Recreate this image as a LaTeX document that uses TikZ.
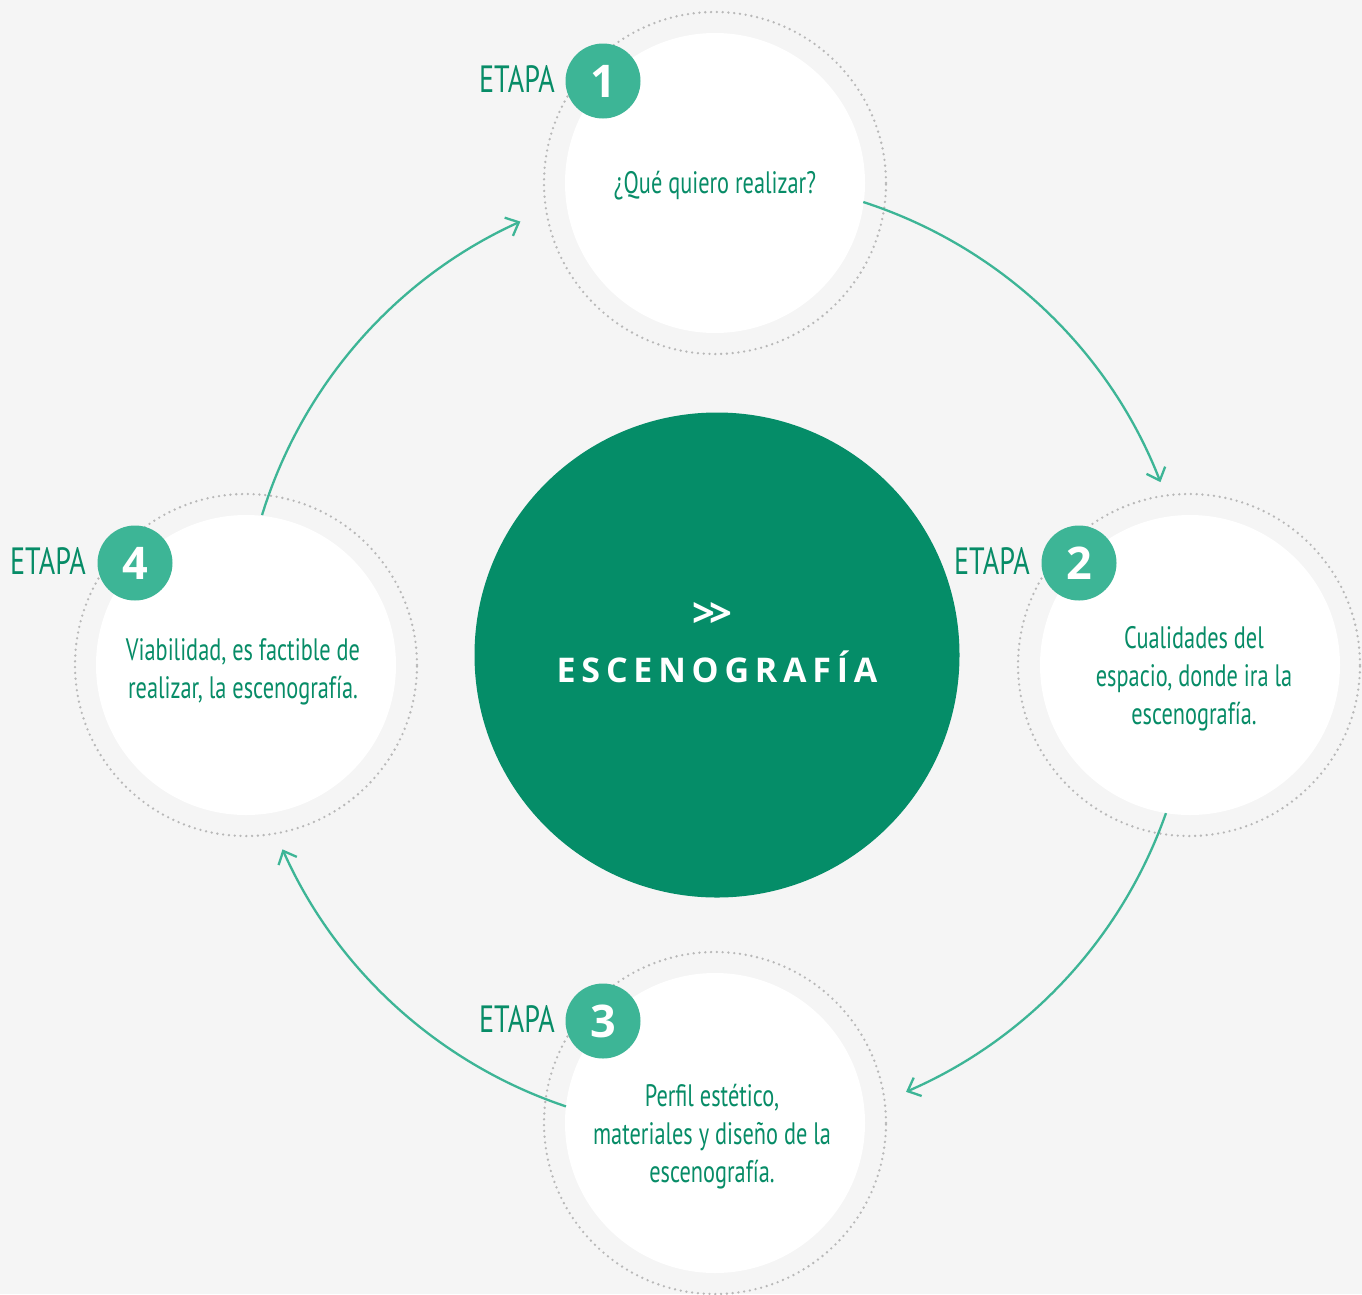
\documentclass[tikz,border=0pt]{standalone}
\usepackage{fontspec}
\usetikzlibrary{arrows.meta,calc}
\newfontfamily\condfont[FakeStretch=0.72]{PT Sans}
\newfontfamily\etapafont[FakeStretch=0.74]{PT Sans}
\newfontfamily\osfont{Open Sans}
\newfontfamily\spacedfont[LetterSpace=17]{Open Sans}
\definecolor{bg}{HTML}{F5F5F5}
\definecolor{maingreen}{HTML}{058D68}
\definecolor{badgegreen}{HTML}{3DB596}
\definecolor{textgreen}{HTML}{078C67}
\definecolor{dotgray}{HTML}{B8B8B8}
\tikzset{
  ring/.style={circle, draw=dotgray, line width=2.6pt, dash pattern=on 0pt off 5.8pt, line cap=round, minimum size=342pt, inner sep=0pt},
  disc/.style={circle, fill=white, minimum size=300pt, inner sep=0pt},
  badge/.style={circle, fill=badgegreen, minimum size=75pt, inner sep=0pt, text=white, font=\osfont\bfseries\fontsize{45}{45}\selectfont},
  etapa/.style={anchor=base east, inner sep=0pt, text=textgreen, font=\etapafont\fontsize{38}{38}\selectfont},
  body/.style={anchor=base, align=center, inner sep=0pt, text=textgreen, font=\condfont\fontsize{31}{38}\selectfont},
  conn/.style={draw=badgegreen, line width=2.3pt, -{Straight Barb[length=11pt,width=20pt]}},
}
\begin{document}
\begin{tikzpicture}[x=1pt,y=-1pt]
\fill[bg] (0,0) rectangle (1362,1294);
\useasboundingbox (0,0) rectangle (1362,1294);
% centre
\node[circle, fill=maingreen, minimum size=485pt, inner sep=0pt] (C) at (717,655) {};
\node[text=white, inner sep=0pt, font=\osfont\bfseries\fontsize{40}{40}\selectfont] (chev) at (712,615) {>\kern-6pt>};
\node[anchor=base, inner sep=0pt, text=white, font=\spacedfont\bfseries\fontsize{34}{34}\selectfont] (title) at (717,682) {ESCENOGRAFÍA};
% stage 1
\node[ring] (r1) at (715,183) {};
\node[disc] (d1) at (715,183) {};
\node[body] (t1) at (715,193) {¿Qué quiero realizar?};
\node[badge] (b1) at (603,81) {1};
\node[etapa] (e1) at (555,92) {ETAPA};
% stage 2
\node[ring] (r2) at (1189,665) {};
\node[disc] (d2) at (1190,665) {};
\node[body] (t2) at (1194,724) {Cualidades del\\espacio, donde ira la\\escenografía.};
\node[badge] (b2) at (1079,563) {2};
\node[etapa] (e2) at (1030,574) {ETAPA};
% stage 3
\node[ring] (r3) at (715,1123) {};
\node[disc] (d3) at (715,1123) {};
\node[body] (t3) at (712,1182) {Perfil estético,\\materiales y diseño de la\\escenografía.};
\node[badge] (b3) at (603,1021) {3};
\node[etapa] (e3) at (555,1032) {ETAPA};
% stage 4
\node[ring] (r4) at (246,665) {};
\node[disc] (d4) at (246,665) {};
\node[body] (t4) at (243,698) {Viabilidad, es factible de\\realizar, la escenografía.};
\node[badge] (b4) at (135,563) {4};
\node[etapa] (e4) at (86,574) {ETAPA};
% connectors (arcs about the centre)
\coordinate (s1) at ($(C)+(-72.1:476)$);
\coordinate (s2) at ($(C)+(19.4:476)$);
\coordinate (s3) at ($(C)+(108.5:476)$);
\coordinate (s4) at ($(C)+(-162.9:476)$);
\draw[conn] (s1) arc[start angle=-72.1, end angle=-21.3, radius=476];
\draw[conn] (s2) arc[start angle=19.4, end angle=66.6, radius=476];
\draw[conn] (s3) arc[start angle=108.5, end angle=155.9, radius=476];
\draw[conn] (s4) arc[start angle=-162.9, end angle=-114.4, radius=476];
\end{tikzpicture}
\end{document}
